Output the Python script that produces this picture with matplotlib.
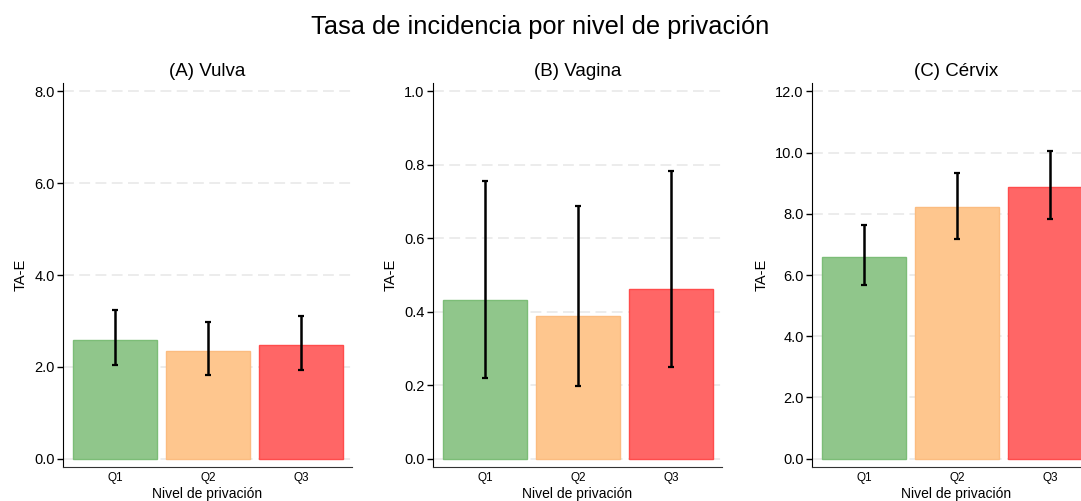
import numpy as np
import matplotlib.pyplot as plt

plt.rcParams['font.family'] = ['Liberation Sans', 'DejaVu Sans']

# Age-standardised incidence rates (TA-E) by deprivation quintile
quintiles = ['Q1', 'Q2', 'Q3']
panel_titles = ['(A) Vulva', '(B) Vagina', '(C) Cérvix']

vulva_rate = [2.58, 2.35, 2.47]
vulva_low = [2.03, 1.82, 1.93]
vulva_high = [3.23, 2.97, 3.11]

vagina_rate = [0.432, 0.388, 0.461]
vagina_low = [0.221, 0.199, 0.250]
vagina_high = [0.757, 0.688, 0.784]

cervix_rate = [6.60, 8.21, 8.88]
cervix_low = [5.69, 7.17, 7.82]
cervix_high = [7.62, 9.32, 10.06]

y_max = [8.0, 1.0, 12.0]
y_step = [2.0, 0.2, 2.0]

fill_colors = ['#90C68B', '#FEC68E', '#FF6666']
edge_colors = ['#7CBD77', '#FBBC80', '#FF4C4C']

panels = [
    (vulva_rate, vulva_low, vulva_high),
    (vagina_rate, vagina_low, vagina_high),
    (cervix_rate, cervix_low, cervix_high),
]

fig = plt.figure(figsize=(10.81, 5.01), dpi=100)
fig.suptitle('Tasa de incidencia por nivel de privación', fontsize=18.3, y=0.97)

lefts = [0.0583, 0.4006, 0.7512]
for k, (rate, low, high) in enumerate(panels):
    ax = fig.add_axes([lefts[k], 0.068, 0.2673, 0.766])
    x = np.arange(len(quintiles))
    rate = np.array(rate)
    yerr = [rate - np.array(low), np.array(high) - rate]

    ax.bar(x, rate, width=0.9, color=fill_colors, edgecolor=edge_colors,
           linewidth=1.0, zorder=2)
    ax.errorbar(x, rate, yerr=yerr, fmt='none', ecolor='black',
                elinewidth=1.8, capsize=2.5, capthick=1.6, zorder=3)

    ticks = np.arange(0, y_max[k] + y_step[k] / 2, y_step[k])
    ax.set_yticks(ticks)
    ax.set_yticklabels([f'{t:.1f}' for t in ticks], fontsize=10.5)
    ax.set_ylim(-0.0225 * y_max[k], 1.0225 * y_max[k])
    ax.set_xlim(-0.56, 2.55)
    ax.set_xticks(x)
    ax.set_xticklabels(quintiles, fontsize=8.5)

    ax.yaxis.grid(True, color='#EBEBEB', linestyle=(0, (6, 3)), linewidth=1.3, zorder=0)
    ax.set_axisbelow(True)
    ax.tick_params(axis='x', length=0, pad=4)
    ax.tick_params(axis='y', length=4, width=1, pad=2)

    for side in ['top', 'right']:
        ax.spines[side].set_visible(False)
    ax.spines['left'].set_color('black')
    ax.spines['bottom'].set_color('#333333')

    ax.set_title(panel_titles[k], fontsize=13.5, pad=5)
    ax.set_xlabel('Nivel de privación', fontsize=10, labelpad=2)
    ax.set_ylabel('TA-E', fontsize=10.5, labelpad=5)

fig.savefig('out.png', dpi=100)
